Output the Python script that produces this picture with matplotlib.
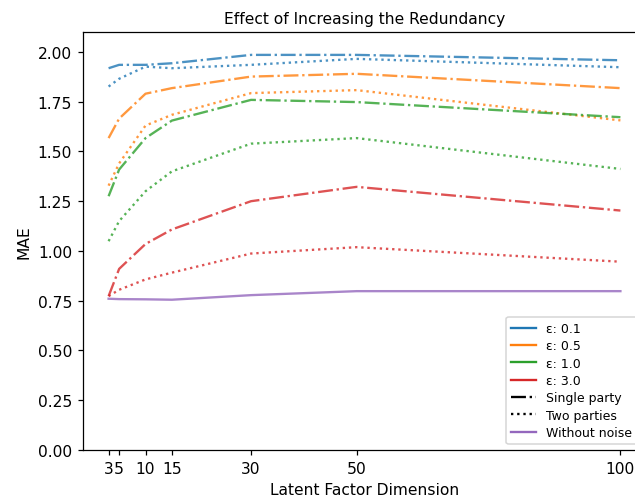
import numpy as np
import matplotlib
matplotlib.use("Agg")
import matplotlib.pyplot as plt
from matplotlib.lines import Line2D

# latent factor dimensions
dims = [3, 5, 10, 15, 30, 50, 100]
epsilons = ["0.1", "0.5", "1.0", "3.0"]

# MAE, single party (dash-dot)
single = {
    "0.1": [1.918, 1.935, 1.935, 1.943, 1.985, 1.985, 1.958],
    "0.5": [1.567, 1.665, 1.790, 1.818, 1.876, 1.890, 1.818],
    "1.0": [1.275, 1.409, 1.567, 1.655, 1.759, 1.748, 1.672],
    "3.0": [0.773, 0.910, 1.035, 1.108, 1.250, 1.322, 1.203],
}
# MAE, two parties (dotted)
two = {
    "0.1": [1.826, 1.865, 1.926, 1.918, 1.935, 1.965, 1.923],
    "0.5": [1.328, 1.440, 1.630, 1.684, 1.793, 1.808, 1.656],
    "1.0": [1.049, 1.150, 1.300, 1.400, 1.539, 1.567, 1.412],
    "3.0": [0.773, 0.805, 0.857, 0.891, 0.987, 1.019, 0.946],
}
no_noise = [0.760, 0.758, 0.757, 0.755, 0.778, 0.798, 0.798]

colors = ["C0", "C1", "C2", "C3"]

dpi = 112
fig = plt.figure(figsize=(635 / dpi, 502 / dpi), dpi=dpi)
ax = fig.add_axes([83 / 635, 51 / 502, 563 / 635, 418 / 502])

for eps, c in zip(epsilons, colors):
    ax.plot(dims, single[eps], linestyle="-.", color=c, alpha=0.8)
    ax.plot(dims, two[eps], linestyle=":", color=c, alpha=0.8)
ax.plot(dims, no_noise, linestyle="-", color="C4", alpha=0.8)

ax.set_xticks(dims)
ax.set_ylim(0, 2.1)
ax.set_yticks(np.arange(0, 2.01, 0.25))
ax.set_xlabel("Latent Factor Dimension")
ax.set_ylabel("MAE")
ax.set_title("Effect of Increasing the Redundancy", fontsize=10)

handles = [Line2D([0], [0], color=c) for c in colors]
labels = ["ε: " + e for e in epsilons]
handles += [Line2D([0], [0], color="black", linestyle="-."),
            Line2D([0], [0], color="black", linestyle=":"),
            Line2D([0], [0], color="C4")]
labels += ["Single party", "Two parties", "Without noise"]
fig.legend(handles, labels, loc="lower right", fontsize=8, labelspacing=0.35,
           bbox_to_anchor=(637 / 635, 57 / 502), borderaxespad=0)

fig.savefig("out.png", dpi=dpi)
